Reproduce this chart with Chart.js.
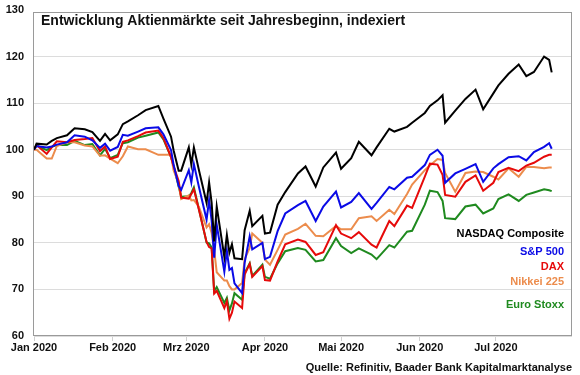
<!DOCTYPE html>
<html>
<head>
<meta charset="utf-8">
<script src="https://cdn.jsdelivr.net/npm/chart.js@4.4.0/dist/chart.umd.min.js"></script>
<style>
  html, body { margin: 0; padding: 0; background: #fff; }
</style>
</head>
<body>
<canvas id="aktienChart" width="580" height="375"></canvas>
<script>
// Stichtage (Index = 100 am Jahresanfang)
const dates = [
  "2020-01-01", "2020-01-02", "2020-01-06", "2020-01-08", "2020-01-10", "2020-01-14", "2020-01-17", "2020-01-21", "2020-01-24", "2020-01-27", "2020-01-29", "2020-01-31",
  "2020-02-03", "2020-02-05", "2020-02-07", "2020-02-11", "2020-02-14", "2020-02-19", "2020-02-21", "2020-02-24", "2020-02-25", "2020-02-27", "2020-02-28",
  "2020-03-02", "2020-03-03", "2020-03-04", "2020-03-06", "2020-03-09", "2020-03-10", "2020-03-11", "2020-03-12", "2020-03-13", "2020-03-16", "2020-03-17", "2020-03-18", "2020-03-19", "2020-03-20", "2020-03-23", "2020-03-24", "2020-03-26", "2020-03-27", "2020-03-31",
  "2020-04-01", "2020-04-03", "2020-04-06", "2020-04-09", "2020-04-14", "2020-04-17", "2020-04-21", "2020-04-24", "2020-04-29",
  "2020-05-01", "2020-05-05", "2020-05-08", "2020-05-13", "2020-05-15", "2020-05-20", "2020-05-22", "2020-05-27", "2020-05-29",
  "2020-06-03", "2020-06-05", "2020-06-08", "2020-06-10", "2020-06-11", "2020-06-15", "2020-06-19", "2020-06-23", "2020-06-26", "2020-06-30",
  "2020-07-02", "2020-07-06", "2020-07-10", "2020-07-13", "2020-07-16", "2020-07-20", "2020-07-22", "2020-07-23"
];

const nasdaq = [
  100, 101.3, 101.1, 101.9, 102.5, 103.1, 104.6, 104.4, 103.8, 101.9, 103.4, 102.0,
  103.3, 105.5, 106.1, 107.4, 108.5, 109.4, 106.7, 102.8, 99.9, 95.5, 95.5,
  100.5, 96.8, 100.5, 95.6, 88.6, 93.0, 88.6, 80.3, 87.8, 77.0, 81.7, 77.9, 79.7, 76.7, 76.5, 82.7, 86.9, 83.6, 85.8,
  82.0, 82.2, 88.2, 90.9, 94.9, 96.4, 92.1, 96.2, 99.4,
  95.9, 98.2, 101.7, 98.8, 100.5, 104.5, 103.9, 104.9, 105.8,
  107.9, 109.4, 110.6, 111.7, 105.8, 108.4, 110.9, 112.9, 108.7, 112.1,
  113.8, 116.3, 118.3, 115.8, 116.7, 120.0, 119.3, 116.6
];
const sp500 = [
  100, 100.8, 100.5, 100.7, 101.1, 101.6, 103.1, 102.8, 102.0, 100.4, 101.3, 99.8,
  100.6, 103.2, 103.0, 103.9, 104.6, 104.8, 103.3, 99.9, 96.8, 92.2, 91.4,
  95.6, 93.0, 96.9, 92.0, 85.0, 89.2, 84.8, 76.8, 83.9, 73.8, 78.3, 74.2, 74.6, 71.3, 69.2, 75.7, 81.4, 78.6, 80.0,
  76.5, 77.0, 82.5, 86.3, 88.1, 89.0, 84.7, 87.8, 91.0,
  87.6, 88.8, 90.7, 87.3, 88.6, 92.0, 91.5, 94.0, 94.2,
  96.7, 98.9, 100.0, 98.7, 92.9, 94.9, 95.9, 96.9, 93.1, 96.0,
  96.9, 98.4, 98.6, 97.7, 99.5, 100.6, 101.4, 100.2
];
const dax = [
  100, 101.0, 99.1, 100.5, 101.8, 101.6, 102.1, 102.3, 102.5, 99.7, 100.7, 98.0,
  98.5, 101.7, 102.0, 102.9, 103.7, 104.1, 102.5, 98.4, 96.5, 93.3, 89.7,
  89.5, 90.5, 91.5, 87.1, 80.2, 79.1, 78.8, 69.1, 69.7, 66.0, 67.5, 63.7, 65.0, 67.4, 66.0, 73.2, 75.5, 72.7, 75.0,
  72.0, 71.9, 76.0, 79.7, 80.7, 80.2, 77.4, 78.0, 83.8,
  82.0, 81.0, 82.3, 79.6, 79.0, 84.7, 83.6, 88.0, 87.5,
  94.2, 97.0, 96.8, 94.6, 90.3, 89.9, 93.1, 94.5, 91.2, 92.9,
  95.2, 96.1, 95.4, 96.6, 97.2, 98.5, 98.9, 98.9
];
const nikkei = [
  100, 100, 98.1, 98.1, 100.8, 101.6, 101.6, 100.9, 100.7, 98.7, 98.8, 98.1,
  97.1, 98.6, 100.7, 100.1, 100.1, 98.9, 98.9, 98.9, 95.6, 92.8, 89.4,
  90.2, 89.1, 89.2, 87.7, 83.3, 84.0, 82.1, 78.5, 73.7, 71.9, 71.9, 70.7, 70.0, 70.0, 71.4, 76.5, 78.9, 82.0, 80.0,
  76.4, 75.3, 78.5, 81.8, 83.0, 84.1, 81.5, 81.4, 83.6,
  82.9, 82.9, 85.3, 85.7, 84.7, 87.1, 86.2, 90.5, 92.5,
  95.6, 96.6, 98.0, 97.8, 95.0, 91.0, 95.0, 95.3, 95.2, 94.2,
  93.6, 96.0, 94.2, 96.3, 96.3, 96.0, 96.2, 96.2
];
const euroStoxx = [
  100, 100.9, 99.9, 100.6, 101.0, 101.0, 101.9, 101.0, 101.2, 98.8, 100.2, 98.2,
  98.9, 101.4, 101.6, 102.6, 103.0, 103.7, 102.2, 98.4, 96.5, 92.1, 89.9,
  90.0, 90.7, 91.9, 87.2, 80.1, 79.9, 79.0, 69.6, 70.5, 67.1, 68.2, 65.5, 67.0, 69.2, 67.8, 73.5, 75.6, 72.9, 75.3,
  72.7, 72.3, 75.6, 78.2, 78.9, 78.5, 76.0, 76.3, 81.0,
  79.3, 77.8, 78.8, 77.5, 76.5, 79.5, 79.0, 82.4, 82.6,
  88.2, 91.2, 90.9, 89.0, 85.3, 85.1, 87.8, 88.2, 86.3, 87.4,
  89.4, 90.4, 89.0, 90.3, 90.8, 91.5, 91.3, 91.1
];

const seriesNames = ["NASDAQ Composite", "S&P 500", "DAX", "Nikkei 225", "Euro Stoxx"];
const seriesColors = ["#000000", "#0a0ae6", "#e60a0a", "#ec8c4c", "#1f8a1f"];

const monthStarts = ["2020-01-01", "2020-02-01", "2020-03-01", "2020-04-01", "2020-05-01", "2020-06-01", "2020-07-01"];
const monthLabels = ["Jan 2020", "Feb 2020", "Mrz 2020", "Apr 2020", "Mai 2020", "Jun 2020", "Jul 2020"];
const yTicks = [60, 70, 80, 90, 100, 110, 120, 130];

const chartTitle = "Entwicklung Aktienmärkte seit Jahresbeginn, indexiert";
const sourceNote = "Quelle: Refinitiv, Baader Bank Kapitalmarktanalyse";

const dayOf = (s) => (Date.parse(s) - Date.parse("2020-01-01")) / 86400000;
const xDays = dates.map(dayOf);
const monthDays = monthStarts.map(dayOf);
const toPoints = (vals) => vals.map((v, i) => ({ x: xDays[i], y: v }));

const FONT = "'Liberation Sans', Arial, sans-serif";

// Titel, Rahmen und Legende direkt in die Zeichenfläche
const decor = {
  id: "decor",
  beforeDatasetsDraw(chart) {
    const { ctx, chartArea: a } = chart;
    ctx.save();
    ctx.strokeStyle = "#9a9a9a";
    ctx.lineWidth = 1;
    ctx.strokeRect(Math.round(a.left) - 0.5, Math.round(a.top) + 2.5, Math.round(a.right - a.left), Math.round(a.bottom - a.top) - 3);
    ctx.restore();
  },
  afterDatasetsDraw(chart) {
    const { ctx, chartArea: a } = chart;
    ctx.save();
    ctx.textBaseline = "middle";
    ctx.font = "bold 14px " + FONT;
    ctx.fillStyle = "#111";
    ctx.textAlign = "left";
    ctx.fillText(chartTitle, a.left + 7, 21);

    const rowsY = [234, 252, 267, 282, 305];
    ctx.font = "bold 11px " + FONT;
    ctx.textAlign = "right";
    seriesNames.forEach((name, i) => {
      ctx.fillStyle = seriesColors[i];
      ctx.fillText(name, a.right - 8, rowsY[i]);
    });
    ctx.restore();
  }
};

const datasets = [nasdaq, sp500, dax, nikkei, euroStoxx].map((vals, i) => ({
  label: seriesNames[i],
  data: toPoints(vals),
  borderColor: seriesColors[i],
  backgroundColor: seriesColors[i],
  borderWidth: 2,
  pointRadius: 0,
  tension: 0,
  fill: false,
}));

const chart = new Chart(document.getElementById("aktienChart"), {
  type: "line",
  data: { datasets },
  options: {
    responsive: false,
    animation: false,
    devicePixelRatio: 1,
    layout: { padding: { top: 10, right: 8, bottom: 0, left: 0 } },
    plugins: {
      legend: { display: false },
      tooltip: { enabled: false },
    },
    scales: {
      x: {
        type: "linear",
        min: 0,
        max: 212,
        afterBuildTicks: (s) => { s.ticks = monthDays.map((v) => ({ value: v })); },
        afterFit: (s) => { s.height = 39; },
        ticks: {
          autoSkip: false,
          maxRotation: 0,
          padding: 0,
          color: "#111",
          font: { family: FONT, size: 11, weight: "bold" },
          callback: (v) => monthLabels[monthDays.indexOf(v)],
        },
        grid: { drawOnChartArea: false, tickLength: 5, color: "#d0d0d0" },
        border: { display: false },
        title: {
          display: true,
          text: sourceNote,
          align: "end",
          color: "#111",
          font: { family: FONT, size: 11, weight: "bold" },
          padding: { top: 0, bottom: 0 },
        },
      },
      y: {
        min: 60,
        max: 130,
        afterBuildTicks: (s) => { s.ticks = yTicks.map((v) => ({ value: v })); },
        afterFit: (s) => {
          s.width = 34;
          s.paddingTop = 4;
          s.paddingBottom = 4;
        },
        ticks: {
          padding: 10,
          color: "#111",
          font: { family: FONT, size: 11, weight: "bold" },
        },
        grid: {
          color: (c) => (c.tick && c.tick.value === 130 ? "rgba(0,0,0,0)" : "#dcdcdc"),
          drawTicks: false,
        },
        border: { display: false },
      },
    },
  },
  plugins: [decor],
});
</script>
</body>
</html>
